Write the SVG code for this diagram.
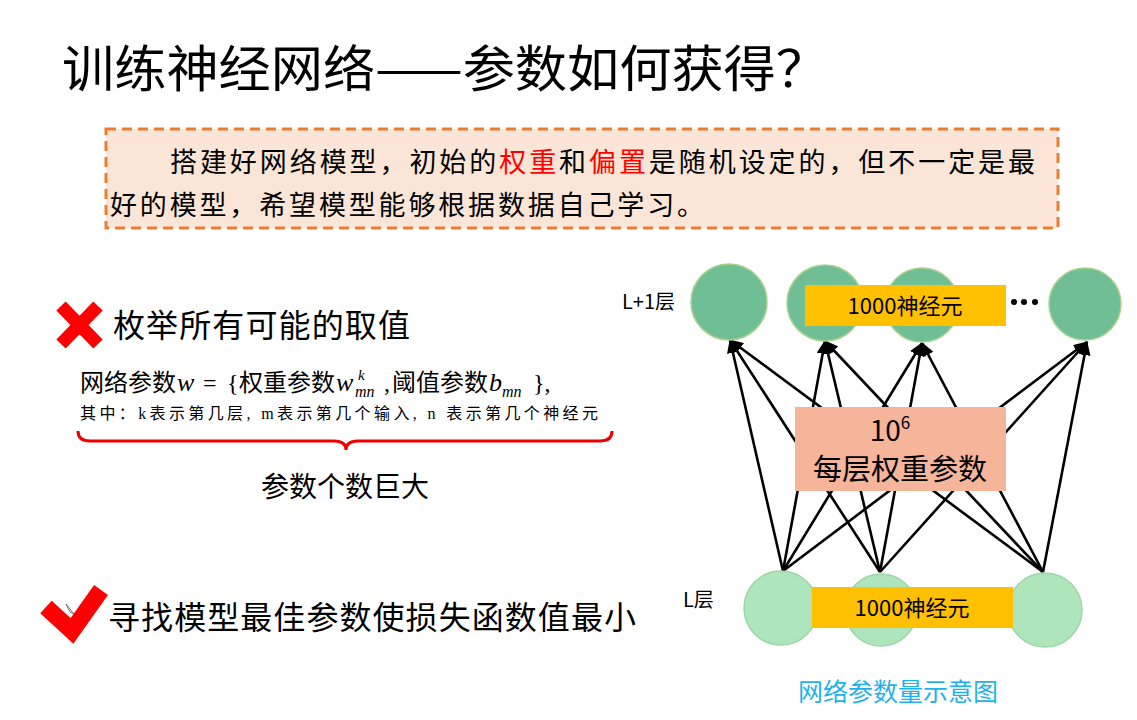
<svg xmlns="http://www.w3.org/2000/svg" width="1137" height="720" viewBox="0 0 1137 720">
<defs>
<style>
.cjk{font-family:"Noto Sans CJK SC","Noto Sans",sans-serif;fill:#000}
.ser{font-family:"Liberation Serif","DejaVu Serif",serif}
.mi{font-family:"Liberation Serif","DejaVu Serif",serif;font-style:italic}
.top{fill:#70bf94;stroke:#a9d18e;stroke-width:1.5}
.bot{fill:#afe5bb;stroke:#9cd6a8;stroke-width:1.5}
.lab{fill:#ffc000}
.edge{stroke:#000;stroke-width:2.6;fill:none;marker-end:url(#ah)}
</style>
<marker id="ah" markerUnits="userSpaceOnUse" markerWidth="14" markerHeight="12" viewBox="0 0 14 12" refX="13" refY="6" orient="auto">
<path d="M0,0 L14,6 L0,12 Z" fill="#000"/>
</marker>
</defs>
<rect width="1137" height="720" fill="#fff"/>

<g id="title">
<text class="cjk" x="62" y="87" font-size="50" textLength="766" lengthAdjust="spacingAndGlyphs">训练神经网络——参数如何获得？</text>
</g>

<g id="intro">
<rect x="106" y="129" width="952" height="99" fill="#fbe5d6" stroke="#ed7d31" stroke-width="3" stroke-dasharray="10,6"/>
<text class="cjk" x="170" y="172" font-size="27" textLength="865" lengthAdjust="spacing">搭建好网络模型，初始的<tspan fill="#ff0000">权重</tspan>和<tspan fill="#ff0000">偏置</tspan>是随机设定的，但不一定是最</text>
<text class="cjk" x="110" y="215" font-size="27" textLength="594" lengthAdjust="spacing">好的模型，希望模型能够根据数据自己学习。</text>
</g>

<g id="option-wrong">
<path d="M61,306 L98,344 M98,306 L61,344" stroke="#ff0000" stroke-width="13" fill="none"/>
<text class="cjk" x="113" y="337" font-size="32" textLength="297" lengthAdjust="spacing">枚举所有可能的取值</text>
</g>

<g id="formula">
<text class="cjk" y="391" font-size="24"><tspan x="80">网络参数</tspan><tspan class="mi" x="177" font-size="26">w</tspan><tspan class="ser" x="203">=</tspan><tspan class="ser" x="227">{</tspan><tspan x="239">权重参数</tspan><tspan class="mi" x="336" font-size="26">w</tspan><tspan class="mi" x="358" y="380" font-size="15">k</tspan><tspan class="mi" x="355" y="397" font-size="16">mn</tspan><tspan class="ser" x="384" y="391">,</tspan><tspan x="392">阈值参数</tspan><tspan class="mi" x="489" font-size="26">b</tspan><tspan class="mi" x="502" y="397" font-size="16">mn</tspan><tspan class="ser" x="533" y="391">},</tspan></text>
<text class="cjk" x="80" y="419" font-size="16" textLength="518" lengthAdjust="spacing">其中：<tspan class="ser">k</tspan>表示第几层<tspan class="ser">, m</tspan>表示第几个输入<tspan class="ser">, n </tspan>表示第几个神经元</text>
<path d="M78,431 Q78,441 90,441 L334,441 Q346,441 346,450 Q346,441 358,441 L600,441 Q612,441 612,431" stroke="#ee0000" stroke-width="3" fill="none"/>
<text class="cjk" x="345" y="497" font-size="28" text-anchor="middle">参数个数巨大</text>
</g>

<g id="option-right">
<polyline points="46,607 72,631 101,590" stroke="#ff0000" stroke-width="17" fill="none" stroke-linejoin="miter"/>
<path d="M66,604 L74,614 L70,612 Z" fill="#fff" stroke="#555" stroke-width="0.8"/>
<text class="cjk" x="108" y="629" font-size="32" textLength="528" lengthAdjust="spacing">寻找模型最佳参数使损失函数值最小</text>
</g>

<g id="connectors">
<line class="edge" x1="783" y1="571" x2="730" y2="340"/>
<line class="edge" x1="783" y1="571" x2="825" y2="341"/>
<line class="edge" x1="783" y1="571" x2="922" y2="343"/>
<line class="edge" x1="783" y1="571" x2="1087" y2="342"/>
<line class="edge" x1="880" y1="572" x2="730" y2="340"/>
<line class="edge" x1="880" y1="572" x2="825" y2="341"/>
<line class="edge" x1="880" y1="572" x2="922" y2="343"/>
<line class="edge" x1="880" y1="572" x2="1087" y2="342"/>
<line class="edge" x1="1043" y1="572" x2="730" y2="340"/>
<line class="edge" x1="1043" y1="572" x2="825" y2="341"/>
<line class="edge" x1="1043" y1="572" x2="922" y2="343"/>
<line class="edge" x1="1043" y1="572" x2="1087" y2="342"/>
</g>

<g id="layer-L1">
<text class="cjk" x="622" y="309" font-size="20">L+1层</text>
<circle class="top" cx="729" cy="302" r="38"/>
<circle class="top" cx="825" cy="303" r="38"/>
<circle class="top" cx="922" cy="305" r="37"/>
<circle class="top" cx="1085" cy="304" r="36"/>
<rect class="lab" x="805" y="285" width="201" height="41"/>
<text class="cjk" x="905" y="314" font-size="22" text-anchor="middle">1000神经元</text>
<circle cx="1014" cy="302" r="3" fill="#000"/>
<circle cx="1024" cy="302" r="3" fill="#000"/>
<circle cx="1035" cy="302" r="3" fill="#000"/>
</g>

<g id="weights">
<rect x="795" y="407" width="211" height="84" fill="#f4b59b"/>
<text class="cjk" font-size="29" text-anchor="middle"><tspan x="890" y="441" font-size="28">10<tspan font-size="17" dy="-12">6</tspan></tspan><tspan x="900" y="480">每层权重参数</tspan></text>
</g>

<g id="layer-L">
<text class="cjk" x="683" y="607" font-size="20">L层</text>
<circle class="bot" cx="781" cy="608" r="37"/>
<circle class="bot" cx="881" cy="610" r="36"/>
<circle class="bot" cx="1045" cy="610" r="37"/>
<rect class="lab" x="812" y="587" width="201" height="41"/>
<text class="cjk" x="912" y="616" font-size="22" text-anchor="middle">1000神经元</text>
</g>

<g id="caption">
<text class="cjk" x="898" y="701" font-size="25" text-anchor="middle" style="fill:#1fb2ea">网络参数量示意图</text>
</g>
</svg>
